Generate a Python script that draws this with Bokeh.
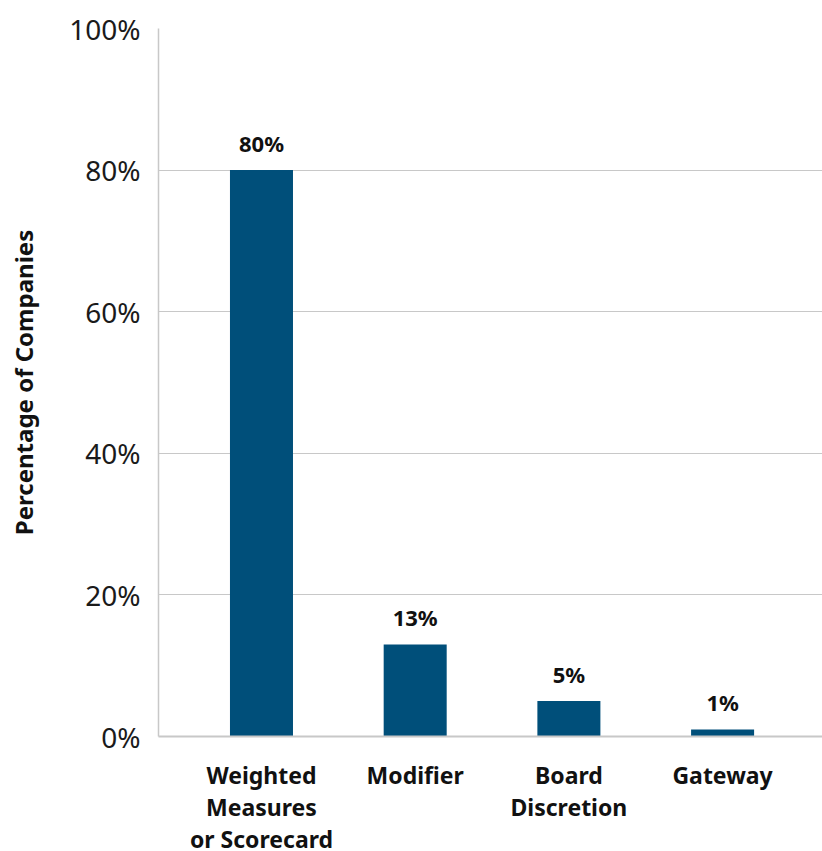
from bokeh.plotting import figure
from bokeh.layouts import column
from bokeh.models import ColumnDataSource, FixedTicker, Range1d
from bokeh.core.properties import value
from bokeh.embed import file_html
from bokeh.resources import INLINE

# Incentive plan design types and share of companies using each
categories = ["Weighted\nMeasures\nor Scorecard", "Modifier", "Board\nDiscretion", "Gateway"]
shares = [80, 13, 5, 1]
y_ticks = [0, 20, 40, 60, 80, 100]

FONT = "Noto Sans"
BAR_COLOR = "#004F7A"
GRID_COLOR = "#C8C8C8"
TEXT_COLOR = "#111111"

xs = list(range(len(categories)))
source = ColumnDataSource(data=dict(
    x=xs,
    share=shares,
    label=[f"{s}%" for s in shares],
    category=categories,
))

x_range = Range1d(-0.67, 3.65)

# main bar chart
p = figure(
    width=822, height=758,
    x_range=x_range,
    y_range=Range1d(0, 100),
    output_backend="svg",
    toolbar_location=None,
    min_border_left=158, min_border_right=0,
    min_border_top=28, min_border_bottom=22,
)
p.outline_line_color = None
p.background_fill_color = "white"
p.border_fill_color = "white"

p.vbar(x="x", top="share", width=0.41, bottom=0, source=source,
       fill_color=BAR_COLOR, line_color=None)

p.text(x="x", y="share", text="label", source=source,
       text_align="center", text_baseline="bottom", y_offset=-12,
       text_font=value(FONT), text_font_style="bold",
       text_font_size="22px", text_color=TEXT_COLOR)

# y axis
p.yaxis.ticker = FixedTicker(ticks=y_ticks)
p.yaxis.major_label_overrides = {t: f"{t}%" for t in y_ticks}
p.yaxis.major_label_text_font = FONT
p.yaxis.major_label_text_font_size = "28px"
p.yaxis.major_label_text_color = "#1a1a1a"
p.yaxis.major_label_standoff = 18
p.yaxis.major_tick_line_color = None
p.yaxis.minor_tick_line_color = None
p.yaxis.major_tick_out = 0
p.yaxis.minor_tick_out = 0
p.yaxis.axis_line_color = GRID_COLOR
p.yaxis.axis_line_width = 1.5
p.yaxis.axis_label = "Percentage of Companies"
p.yaxis.axis_label_text_font = FONT
p.yaxis.axis_label_text_font_style = "bold"
p.yaxis.axis_label_text_font_size = "24px"
p.yaxis.axis_label_text_color = TEXT_COLOR
p.yaxis.axis_label_standoff = 26

# x axis: baseline only
p.xaxis.ticker = FixedTicker(ticks=[])
p.xaxis.major_tick_line_color = None
p.xaxis.minor_tick_line_color = None
p.xaxis.major_tick_out = 0
p.xaxis.minor_tick_out = 0
p.xaxis.axis_line_color = GRID_COLOR
p.xaxis.axis_line_width = 2

p.xgrid.grid_line_color = None
p.ygrid.grid_line_color = GRID_COLOR
p.ygrid.grid_line_width = 1.2

# category names strip, y measured in pixels from its top edge
q = figure(
    width=822, height=93,
    x_range=x_range,
    y_range=Range1d(93, 0),
    output_backend="svg",
    toolbar_location=None,
    min_border_left=158, min_border_right=0,
    min_border_top=0, min_border_bottom=0,
)
q.axis.visible = False
q.grid.visible = False
q.outline_line_color = None
q.background_fill_color = "white"
q.border_fill_color = "white"

q.text(x="x", y=0, text="category", source=source,
       text_align="center", text_baseline="top",
       text_font=value(FONT), text_font_style="bold",
       text_font_size="23px", text_line_height=1.0, text_color=TEXT_COLOR)

layout = column(p, q, spacing=0)
open("out.html", "w").write(file_html(layout, INLINE))
